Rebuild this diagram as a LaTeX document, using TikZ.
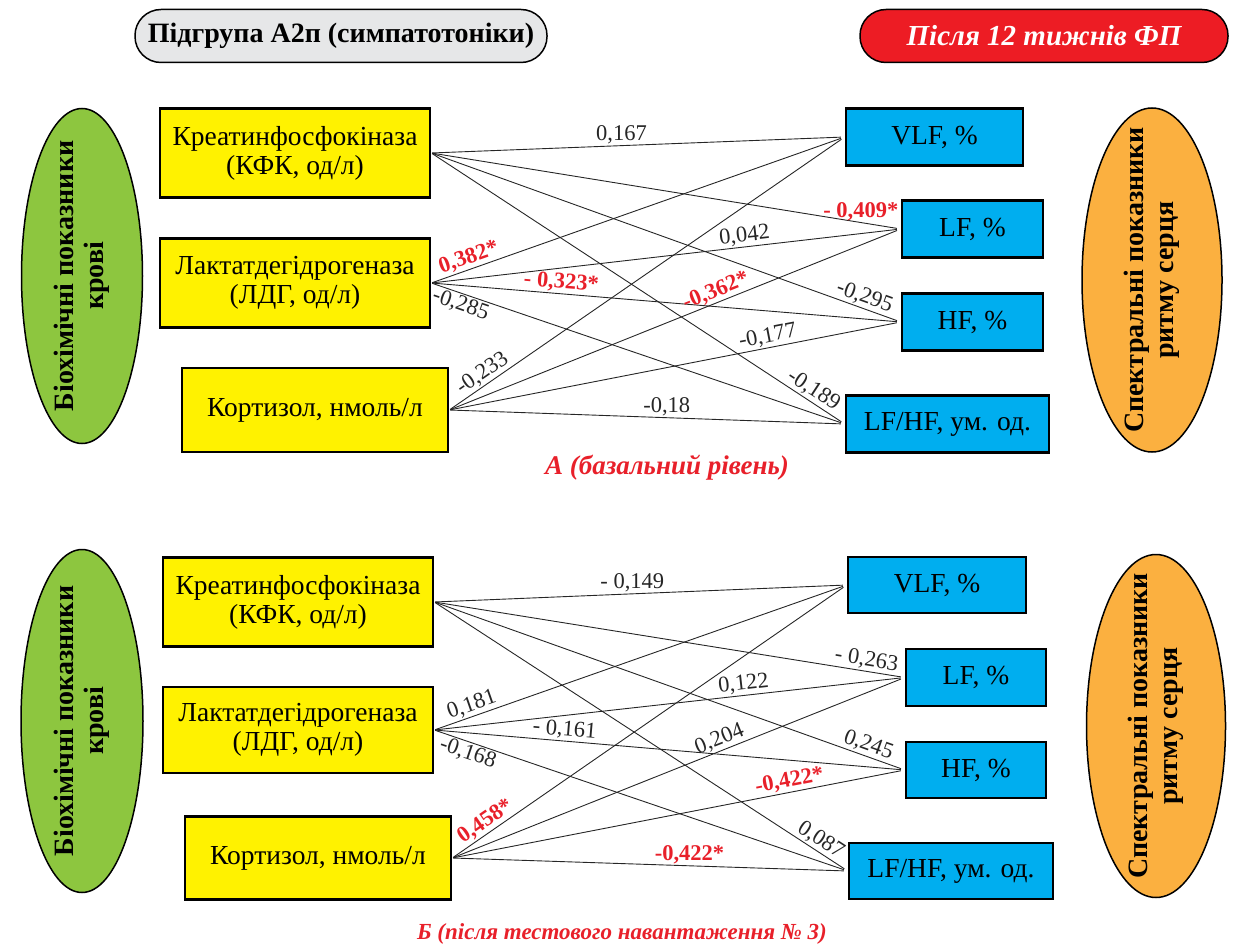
\documentclass[tikz,border=0pt]{standalone}
\usepackage{fontspec}
\setmainfont{Liberation Serif}
\usetikzlibrary{shapes.geometric}

\definecolor{boxyellow}{HTML}{FFF200}
\definecolor{boxblue}{HTML}{00AEEF}
\definecolor{ovalgreen}{HTML}{8DC63F}
\definecolor{ovalorange}{HTML}{FBB040}
\definecolor{headgray}{HTML}{E6E7E8}
\definecolor{headred}{HTML}{ED1C24}
\definecolor{sigred}{HTML}{E8202A}

\tikzset{
  yelbox/.style={draw, line width=2.5pt, fill=boxyellow, minimum width=270pt,
    minimum height=89pt, align=center, inner sep=2pt,
    font=\fontsize{27.5}{29}\selectfont},
  bluebox/.style={draw, line width=2.5pt, fill=boxblue, minimum height=57pt,
    font=\fontsize{27.5}{29}\selectfont},
  ovaltext/.style={rotate=90, align=center, font=\fontsize{28}{30}\selectfont\bfseries},
  link/.style={line width=0.9pt, black!85, shorten <=1pt, shorten >=4pt},
  lab/.style={font=\fontsize{22.5}{22.5}\selectfont, inner sep=1.5pt},
  siglab/.style={lab, text=sigred, font=\fontsize{22.5}{22.5}\selectfont\bfseries},
  caption/.style={text=sigred, font=\fontsize{27}{27}\selectfont\bfseries\itshape},
  graytag/.style={draw, line width=1.5pt, fill=headgray, rounded corners=26pt,
    minimum width=412pt, minimum height=53pt, font=\fontsize{28}{28}\selectfont\bfseries},
  redtag/.style={draw, line width=1.5pt, fill=headred, rounded corners=26pt, text=white,
    minimum width=368pt, minimum height=53pt, font=\fontsize{29}{29}\selectfont\bfseries\itshape}
}

\begin{document}
\begin{tikzpicture}[x=1pt, y=-1pt]
    \useasboundingbox (0,0) rectangle (1233,949);

    % Заголовки
    \node[graytag] (grp) at (341,36) {Підгрупа А2п (симпатотоніки)};
    \node[redtag] (fp) at (1044,36) {Після 12 тижнів ФП};

    % ===== Панель А =====
    \filldraw[fill=ovalgreen, draw=black, line width=1.5pt] (82,276) ellipse [x radius=60.5pt, y radius=167.5pt];
    \node[ovaltext] (bio1) at (82,276) {Біохімічні показники\\крові};
    \filldraw[fill=ovalorange, draw=black, line width=1.5pt] (1152,280) ellipse [x radius=70pt, y radius=172pt];
    \node[ovaltext] (spec1) at (1152,280) {Спектральні показники\\ритму серця};

    \node[yelbox] (kfk1) at (295,153) {Креатинфосфокіназа\\(КФК, од/л)};
    \node[yelbox] (ldg1) at (295,283) {Лактатдегідрогеназа\\(ЛДГ, од/л)};
    \node[yelbox, minimum width=266pt, minimum height=84pt] (kort1) at (315,410) {Кортизол, нмоль/л};

    \node[bluebox, minimum width=177pt] (vlf1) at (934.5,137) {VLF, \%};
    \node[bluebox, minimum width=141pt] (lf1) at (972.5,229) {LF, \%};
    \node[bluebox, minimum width=141pt] (hf1) at (972.5,322) {HF, \%};
    \node[bluebox, minimum width=203pt] (ratio1) at (947.5,424) {LF/HF, ум. од.};

    % КФК
    \draw[link] (kfk1.east) -- node[lab, pos=.46, above] (a1) {0,167} (vlf1.west);
    \draw[link] (kfk1.east) -- node[siglab, pos=.915, above] (a2) {- 0,409*} (lf1.west);
    \draw[link] (kfk1.east) -- node[lab, pos=.915, sloped, above] (a3) {-0,295} (hf1.west);
    \draw[link] (kfk1.east) -- node[lab, pos=.91, sloped, above] (a4) {-0,189} (ratio1.west);
    % ЛДГ
    \draw[link] (ldg1.east) -- node[siglab, pos=.1, sloped, above] (a5) {0,382*} (vlf1.west);
    \draw[link] (ldg1.east) -- node[lab, pos=.67, sloped, above] (a6) {0,042} (lf1.west);
    \draw[link] (ldg1.east) -- node[siglab, pos=.275, sloped, above] (a7) {- 0,323*} (hf1.west);
    \draw[link] (ldg1.east) -- node[lab, pos=.08, sloped, below] (a8) {-0,285} (ratio1.west);
    % Кортизол
    \draw[link] (kort1.east) -- node[lab, pos=.1, sloped, above] (a9) {-0,233} (vlf1.west);
    \draw[link] (kort1.east) -- node[siglab, pos=.6, sloped, above] (a10) {-0,362*} (lf1.west);
    \draw[link] (kort1.east) -- node[lab, pos=.71, sloped, above] (a11) {-0,177} (hf1.west);
    \draw[link] (kort1.east) -- node[lab, pos=.55, above] (a12) {-0,18} (ratio1.west);

    \node[caption] (capA) at (667,468) {А (базальний рівень)};

    % ===== Панель Б =====
    \filldraw[fill=ovalgreen, draw=black, line width=1.5pt] (82,721) ellipse [x radius=61pt, y radius=171.5pt];
    \node[ovaltext] (bio2) at (82,721) {Біохімічні показники\\крові};
    \filldraw[fill=ovalorange, draw=black, line width=1.5pt] (1156,726) ellipse [x radius=69.5pt, y radius=171.5pt];
    \node[ovaltext] (spec2) at (1156,726) {Спектральні показники\\ритму серця};

    \node[yelbox] (kfk2) at (298,602) {Креатинфосфокіназа\\(КФК, од/л)};
    \node[yelbox, minimum height=86pt] (ldg2) at (298,730) {Лактатдегідрогеназа\\(ЛДГ, од/л)};
    \node[yelbox, minimum width=266pt, minimum height=83pt] (kort2) at (318,858) {Кортизол, нмоль/л};

    \node[bluebox, minimum width=178pt, minimum height=56pt] (vlf2) at (937,585) {VLF, \%};
    \node[bluebox, minimum width=140pt] (lf2) at (976,677.5) {LF, \%};
    \node[bluebox, minimum width=140pt, minimum height=56pt] (hf2) at (976,770) {HF, \%};
    \node[bluebox, minimum width=204pt, minimum height=56pt] (ratio2) at (951,871) {LF/HF, ум. од.};

    % КФК
    \draw[link] (kfk2.east) -- node[lab, pos=.48, above] (b1) {- 0,149} (vlf2.west);
    \draw[link] (kfk2.east) -- node[lab, pos=.915, sloped, above] (b2) {- 0,263} (lf2.west);
    \draw[link] (kfk2.east) -- node[lab, pos=.915, sloped, above] (b3) {0,245} (hf2.west);
    \draw[link] (kfk2.east) -- node[lab, pos=.92, sloped, above] (b4) {0,087} (ratio2.west);
    % ЛДГ
    \draw[link] (ldg2.east) -- node[lab, pos=.1, sloped, above] (b5) {0,181} (vlf2.west);
    \draw[link] (ldg2.east) -- node[lab, pos=.66, sloped, above] (b6) {0,122} (lf2.west);
    \draw[link] (ldg2.east) -- node[lab, pos=.275, sloped, above] (b7) {- 0,161} (hf2.west);
    \draw[link] (ldg2.east) -- node[lab, pos=.09, sloped, below] (b8) {-0,168} (ratio2.west);
    % Кортизол
    \draw[link] (kort2.east) -- node[siglab, pos=.1, sloped, above] (b9) {0,458*} (vlf2.west);
    \draw[link] (kort2.east) -- node[lab, pos=.6, sloped, above] (b10) {0,204} (lf2.west);
    \draw[link] (kort2.east) -- node[siglab, pos=.75, sloped, above] (b11) {-0,422*} (hf2.west);
    \draw[link] (kort2.east) -- node[siglab, pos=.6, above] (b12) {-0,422*} (ratio2.west);

    \node[caption, font=\fontsize{23}{23}\selectfont\bfseries\itshape] (capB) at (622,934) {Б (після тестового навантаження № 3)};

\end{tikzpicture}
\end{document}
